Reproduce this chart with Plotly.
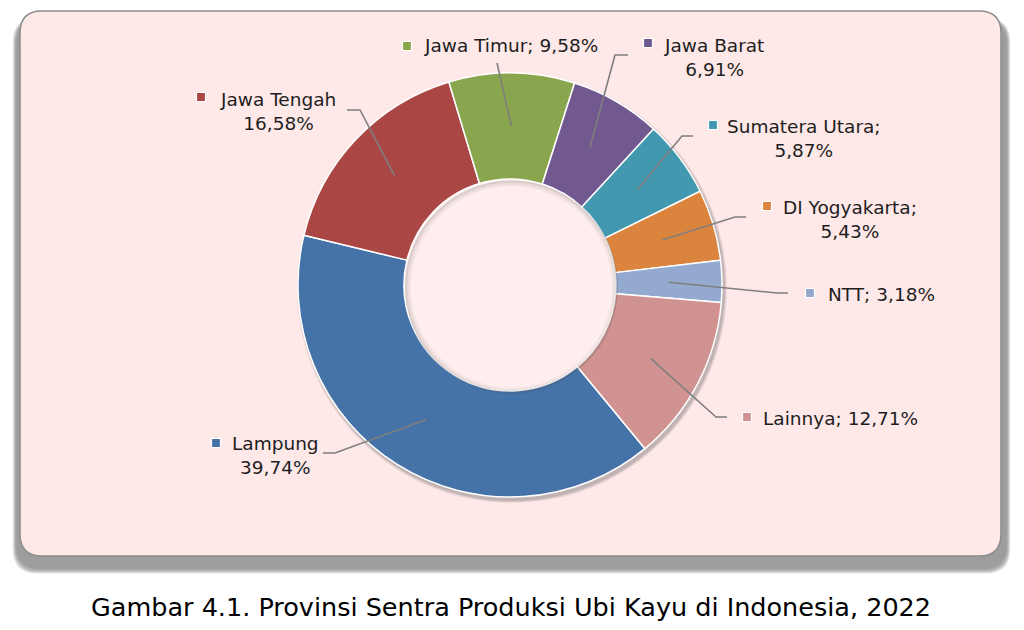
import math
import plotly.graph_objects as go

# ---------------- data ----------------
provinces = ["Lampung", "Jawa Tengah", "Jawa Timur", "Jawa Barat",
             "Sumatera Utara", "DI Yogyakarta", "NTT", "Lainnya"]
shares = [39.74, 16.58, 9.58, 6.91, 5.87, 5.43, 3.18, 12.71]
label_texts = ["Lampung<br>39,74%", "Jawa Tengah<br>16,58%", "Jawa Timur; 9,58%",
               "Jawa Barat<br>6,91%", "Sumatera Utara;<br>5,87%",
               "DI Yogyakarta;<br>5,43%", "NTT; 3,18%", "Lainnya; 12,71%"]
colors = ["#4572A7", "#AA4643", "#89A54E", "#71588F",
          "#4198AF", "#DB843D", "#93A9CF", "#D19392"]
caption = "Gambar 4.1. Provinsi Sentra Produksi Ubi Kayu di Indonesia, 2022"

# ---------------- layout constants (pixels) ----------------
W, H = 1024, 630
CX, CY, R = 510, 285, 212
HOLE = 0.5
ROTATION = 140.5
FONT = "DejaVu Sans"

# label block centers, marker positions, elbow points (pixels)
label_pos = [(275, 455), (278, 111), (511, 46), (714, 57),
             (804, 138), (850, 219), (881, 294), (840, 418)]
marker_pos = [(216, 443), (201, 97), (407, 46), (648, 43),
              (713, 125), (767, 206), (810, 293), (747, 417)]
elbow_pts = [[(335, 453), (323, 453)], [(360, 110), (347, 110)], [(497, 63)],
             [(615, 55), (628, 55)], [(682, 136), (693, 136)],
             [(735, 217), (746, 217)], [(777, 293), (788, 293)],
             [(716, 417), (727, 417)]]


def px(x):
    return x / W


def py(y):
    return 1 - y / H


def rrect(x0, y0, x1, y1, r):
    return (f"M{px(x0 + r)},{py(y0)} L{px(x1 - r)},{py(y0)} "
            f"Q{px(x1)},{py(y0)} {px(x1)},{py(y0 + r)} "
            f"L{px(x1)},{py(y1 - r)} Q{px(x1)},{py(y1)} {px(x1 - r)},{py(y1)} "
            f"L{px(x0 + r)},{py(y1)} Q{px(x0)},{py(y1)} {px(x0)},{py(y1 - r)} "
            f"L{px(x0)},{py(y0 + r)} Q{px(x0)},{py(y0)} {px(x0 + r)},{py(y0)} Z")


shapes = []
# panel shadow (layered blur)
for i in range(7):
    d = 7 - i
    shapes.append(dict(type="path", path=rrect(14 - d * 0.6 + 3, 20 - d * 0.3, 1006 + d * 0.6, 568 + d * 0.8, 24),
                       fillcolor="rgba(120,120,120,0.16)", line=dict(width=0), layer="below"))
# panel
shapes.append(dict(type="path", path=rrect(20, 11, 1001, 556, 22), fillcolor="#FEE8E8",
                   line=dict(color="#8C8C8C", width=1.5), layer="below"))
# donut shadow
for i, (off, op) in enumerate([(5, 0.10), (4, 0.14), (3, 0.18)]):
    rr = R + off - 2
    shapes.append(dict(type="circle", x0=px(CX + 2 - rr), x1=px(CX + 2 + rr),
                       y0=py(CY + 3 + rr), y1=py(CY + 3 - rr),
                       fillcolor=f"rgba(90,90,90,{op})", line=dict(width=0), layer="below"))
# hole (lighter)
rh = R * HOLE
shapes.append(dict(type="circle", x0=px(CX - rh), x1=px(CX + rh), y0=py(CY + rh), y1=py(CY - rh),
                   fillcolor="#FFEEEE", line=dict(width=0), layer="below"))
# inner hole shadow
for i, (w, op) in enumerate([(6, 0.05), (4, 0.07), (2, 0.10)]):
    r2 = rh - w / 2 + 0.5
    shapes.append(dict(type="circle", x0=px(CX + 1.5 - r2), x1=px(CX + 1.5 + r2),
                       y0=py(CY + 2 + r2), y1=py(CY + 2 - r2),
                       fillcolor="rgba(0,0,0,0)", line=dict(color=f"rgba(80,80,80,{op})", width=w),
                       layer="above"))

annotations = []
total = sum(shares)
cum = 0.0
for i, v in enumerate(shares):
    mid = math.radians(ROTATION + (cum + v / 2) * 360 / total)
    cum += v
    rr = R * 0.75
    ax, ay = CX + rr * math.sin(mid), CY - rr * math.cos(mid)
    pts = [(ax, ay)] + elbow_pts[i]
    path = "M" + " L".join(f"{px(x)},{py(y)}" for x, y in pts)
    shapes.append(dict(type="path", path=path, line=dict(color="#7F7F7F", width=1.6), layer="above"))
    mx, my = marker_pos[i]
    shapes.append(dict(type="rect", x0=px(mx - 4.5), x1=px(mx + 4.5), y0=py(my + 4.5), y1=py(my - 4.5),
                       fillcolor=colors[i], line=dict(color="white", width=1.2), layer="above"))
    lx, ly = label_pos[i]
    annotations.append(dict(x=px(lx), y=py(ly), xref="paper", yref="paper", text=label_texts[i],
                            showarrow=False, xanchor="center", yanchor="middle", align="center",
                            font=dict(family=FONT, size=18.5, color="#1E1E1E")))

annotations.append(dict(x=px(511), y=py(607), xref="paper", yref="paper", text=caption,
                        showarrow=False, xanchor="center", yanchor="middle",
                        font=dict(family="DejaVu Sans", size=25.5, color="black")))

fig = go.Figure(go.Pie(
    labels=provinces, values=shares, hole=HOLE, sort=False, direction="clockwise",
    rotation=ROTATION, textinfo="none", hoverinfo="label+percent",
    marker=dict(colors=colors, line=dict(color="white", width=1.5)),
    domain=dict(x=[px(CX - R), px(CX + R)], y=[py(CY + R), py(CY - R)]),
    showlegend=False,
))
fig.update_layout(width=W, height=H, margin=dict(l=0, r=0, t=0, b=0),
                  paper_bgcolor="white", plot_bgcolor="white",
                  shapes=shapes, annotations=annotations)
fig.write_html("out.html")
